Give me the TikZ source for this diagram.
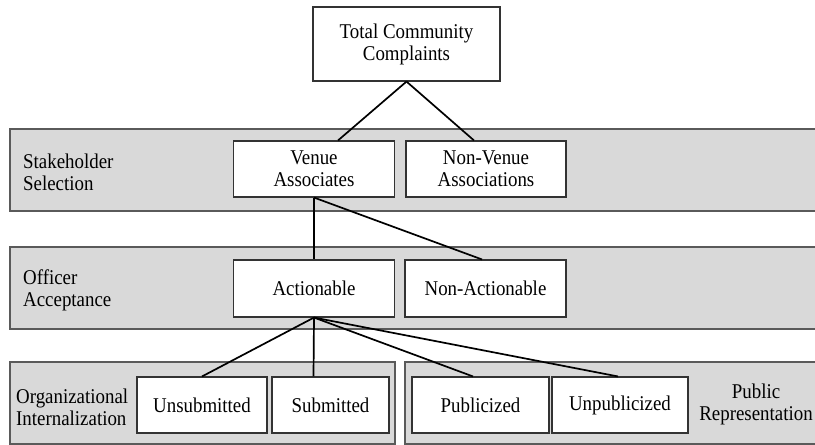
\documentclass[tikz,border=0pt]{standalone}
\usepackage{fontspec}
\setmainfont[FakeStretch=0.9]{Liberation Serif}
\usepackage{tikz}
\usetikzlibrary{positioning}

\definecolor{bandgray}{RGB}{217,217,217}
\definecolor{edgegray}{RGB}{90,90,90}

\begin{document}
\begin{tikzpicture}[x=1pt, y=-1pt, font=\fontsize{21}{22}\selectfont]
    % styles
    \tikzstyle{band} = [rectangle, draw=edgegray, line width=1.4pt, fill=bandgray, inner sep=0pt]
    \tikzstyle{box} = [rectangle, draw=black!80, line width=1.1pt, fill=white, align=center, inner sep=0pt, minimum height=56pt]
    \tikzstyle{lbl} = [align=left, inner sep=0pt, anchor=west]
    \tikzstyle{link} = [line width=1.7pt]

    \useasboundingbox (0,0) rectangle (815,445);

    % bands
    \node (stake) [band, minimum width=810pt, minimum height=82pt] at (415,170) {};
    \node (officer) [band, minimum width=810pt, minimum height=82pt] at (415,288) {};
    \node (orgint) [band, minimum width=385pt, minimum height=82pt] at (202.5,403) {};
    \node (pubrep) [band, minimum width=415pt, minimum height=82pt] at (612.5,403) {};

    % band labels
    \node (stakelbl) [lbl] at (23,172) {Stakeholder\\Selection};
    \node (officerlbl) [lbl] at (23,290) {Officer\\Acceptance};
    \node (orgintlbl) [lbl] at (16,407) {Organizational\\Internalization};
    \node (pubreplbl) [align=center, inner sep=0pt] at (756,404) {Public\\Representation};

    % boxes
    \node (total) [box, minimum width=187pt, minimum height=74pt] at (406.5,44) {Total Community\\Complaints};
    \node (venue) [box, minimum width=161pt] at (314,169) {Venue\\Associates};
    \node (nonvenue) [box, minimum width=160pt] at (486,169) {Non-Venue\\Associations};
    \node (action) [box, minimum width=161pt, minimum height=57pt] at (314,288.5) {Actionable};
    \node (nonaction) [box, minimum width=161pt, minimum height=57pt] at (485.5,288.5) {Non-Actionable};
    \node (unsub) [box, minimum width=130pt] at (202,405) {Unsubmitted};
    \node (sub) [box, minimum width=117pt] at (330.5,405) {Submitted};
    \node (publ) [box, minimum width=137pt] at (480.5,405) {Publicized};
    \node (unpubl) [box, minimum width=136pt] at (620,405) {Unpublicized};

    % connectors
    \draw [link] (total.south) -- ([xshift=24pt]venue.north);
    \draw [link] (total.south) -- ([xshift=-12pt]nonvenue.north);
    \draw [link] (venue.south) -- (action.north);
    \draw [link] (venue.south) -- ([xshift=-3.5pt]nonaction.north);
    \draw [link] (action.south) -- (unsub.north);
    \draw [link] (action.south) -- ([xshift=-17pt]sub.north);
    \draw [link] (action.south) -- ([xshift=-7.5pt]publ.north);
    \draw [link] (action.south) -- ([xshift=-2pt]unpubl.north);
\end{tikzpicture}
\end{document}
